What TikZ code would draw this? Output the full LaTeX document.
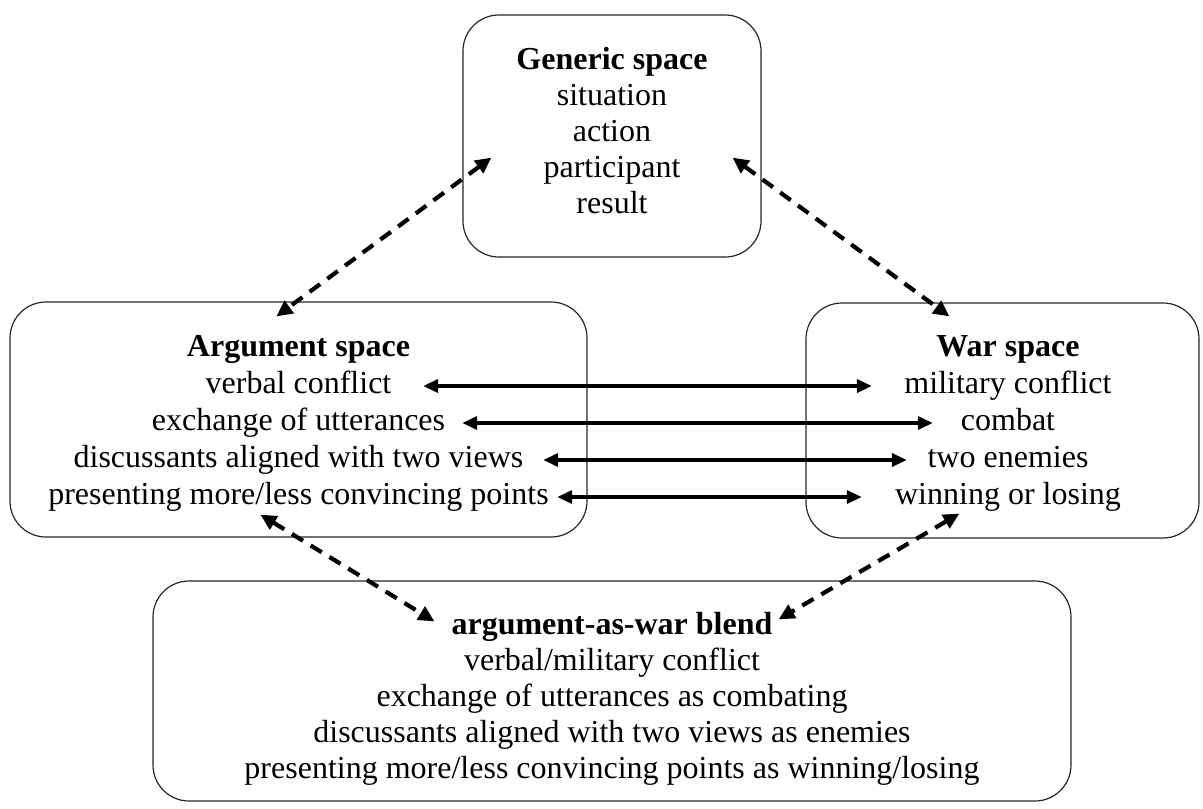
\documentclass[tikz,border=0pt]{standalone}
\usepackage{fontspec}
\setmainfont{Liberation Serif}
\usetikzlibrary{arrows.meta}
\begin{document}
\begin{tikzpicture}[x=1pt,y=-1pt,
  panel/.style={draw=black!85, line width=1.2pt, rounded corners=36pt, inner sep=0pt},
  txt/.style={inner sep=0pt, anchor=base, font=\fontsize{32pt}{37pt}\selectfont},
  head/.style={inner sep=0pt, anchor=base, font=\fontsize{32pt}{37pt}\selectfont\bfseries},
  link/.style={line width=3.5pt, {Triangle[length=15pt,width=13pt]}-{Triangle[length=15pt,width=13pt]}},
  maplink/.style={line width=4.2pt, dash pattern=on 13pt off 9pt,
    {Triangle[length=16pt,width=15pt]}-{Triangle[length=16pt,width=15pt]}}
]
\useasboundingbox (0,0) rectangle (1203,809);

% mental-space boxes
\node[panel, minimum width=298pt, minimum height=242pt] (gen) at (612,136) {};
\node[panel, minimum width=577pt, minimum height=235pt] (arg) at (298.5,419.5) {};
\node[panel, minimum width=393pt, minimum height=235pt] (war) at (1002.5,420.5) {};
\node[panel, minimum width=918pt, minimum height=220pt] (bl) at (612,691) {};

% generic space
\node[head] (g0) at (612,69)  {Generic space};
\node[txt]  (g1) at (612,105) {situation};
\node[txt]  (g2) at (612,141) {action};
\node[txt]  (g3) at (612,177) {participant};
\node[txt]  (g4) at (612,213) {result};

% input space: argument
\node[head] (a0) at (298.5,356) {Argument space};
\node[txt]  (a1) at (298.5,393) {verbal conflict};
\node[txt]  (a2) at (298.5,430) {exchange of utterances};
\node[txt]  (a3) at (298.5,467) {discussants aligned with two views};
\node[txt]  (a4) at (298.5,504) {presenting more/less convincing points};

% input space: war
\node[head] (w0) at (1008,356) {War space};
\node[txt]  (w1) at (1008,393) {military conflict};
\node[txt]  (w2) at (1008,430) {combat};
\node[txt]  (w3) at (1008,467) {two enemies};
\node[txt]  (w4) at (1008,504) {winning or losing};

% blended space
\node[head] (b0) at (612,634) {argument-as-war blend};
\node[txt]  (b1) at (612,670) {verbal/military conflict};
\node[txt]  (b2) at (612,706) {exchange of utterances as combating};
\node[txt]  (b3) at (612,742) {discussants aligned with two views as enemies};
\node[txt]  (b4) at (612,778) {presenting more/less convincing points as winning/losing};

% cross-space counterpart mappings
\draw[link] ([xshift=31.6pt,yshift=7pt]a1.base east) -- ([xshift=-32.4pt,yshift=7pt]w1.base west);
\draw[link] ([xshift=16.9pt,yshift=7pt]a2.base east) -- ([xshift=-27.9pt,yshift=7pt]w2.base west);
\draw[link] ([xshift=19.6pt,yshift=7pt]a3.base east) -- ([xshift=-20.5pt,yshift=7pt]w3.base west);
\draw[link] ([xshift=8.3pt,yshift=7pt]a4.base east)  -- ([xshift=-33.1pt,yshift=7pt]w4.base west);

% projections between spaces
\draw[maplink] ([shift={(29,-100)}]gen.south west) -- ([shift={(267,15)}]arg.north west);
\draw[maplink] ([shift={(-29,-100)}]gen.south east) -- ([shift={(144,14)}]war.north west);
\draw[maplink] ([shift={(251,-23)}]arg.south west) -- ([shift={(282,41)}]bl.north west);
\draw[maplink] ([shift={(154,-25)}]war.south west) -- ([shift={(-293,39)}]bl.north east);
\end{tikzpicture}
\end{document}
